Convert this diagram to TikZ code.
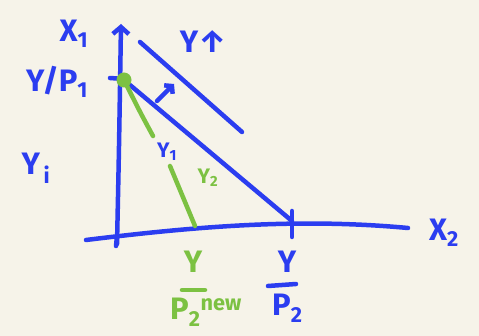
\documentclass[tikz,border=0pt]{standalone}
\usepackage{fontspec}
\setmainfont{Fira Sans}
\usetikzlibrary{arrows.meta}
\definecolor{bg}{HTML}{F6F3E9}
\definecolor{pen}{HTML}{2B3DF0}
\definecolor{lime}{HTML}{7CC142}
\newcommand{\sbs}[1]{\textsubscript{#1}}
\tikzset{
  stroke/.style={draw=pen, line width=4.5pt, line cap=round, line join=round},
  gstroke/.style={draw=lime, line width=4.5pt, line cap=round},
  lbl/.style={text=pen, font=\fontsize{31}{33}\selectfont\bfseries, inner sep=0pt},
  glbl/.style={text=lime, font=\fontsize{31}{33}\selectfont\bfseries, inner sep=0pt},
  slbl/.style={text=pen, font=\fontsize{21}{23}\selectfont\bfseries, inner sep=0pt},
  sglbl/.style={text=lime, font=\fontsize{21}{23}\selectfont\bfseries, inner sep=0pt}
}
\begin{document}
\begin{tikzpicture}[x=1pt,y=-1pt]
\useasboundingbox[fill=bg] (0,0) rectangle (479,336);
% coordinates
\coordinate (ybot) at (117,244);
\coordinate (ytop) at (121,24);
\coordinate (xl) at (86,240);
\coordinate (xr) at (408,228);
\coordinate (A) at (124,80);
\coordinate (B) at (292,221);
\coordinate (G) at (195,226);
\coordinate (U1) at (140,42);
\coordinate (U2) at (242,132);
\coordinate (a1) at (157,101);
\coordinate (a2) at (174,84);
% axes
\draw[stroke, -{Straight Barb[length=7pt,width=16pt]}] (ybot) .. controls (119,150) .. (ytop);
\draw[stroke] (xl) .. controls (200,226) and (300,218) .. (xr);
\draw[stroke] (292,211) -- (292,237);
\draw[stroke] (110,78) -- (124,79);
\draw[stroke] (117,236) -- (116,246);
% budget lines
\draw[stroke] (A) -- (B);
\draw[stroke] (U1) -- (U2);
\draw[stroke, -{Straight Barb[length=5pt,width=12pt]}] (a1) -- (a2);
% green line
\draw[gstroke] (A) .. controls (140,112) .. (153,136);
\draw[gstroke] (170,166) -- (G);
\fill[lime] (A) circle (7.5);
% labels
\node[lbl] (x1) at (74,34) {X\sbs{1}};
\node[lbl] (yp1) at (57,82) {Y/P\sbs{1}};
\node[lbl] (yup) at (203,42) {Y↑};
\node[lbl] (yi) at (36,168) {Y\sbs{\,i}};
\node[slbl] (y1) at (167,152) {Y\sbs{1}};
\node[sglbl] (y2) at (208,178) {Y\sbs{2}};
\node[lbl] (x2) at (444,233) {X\sbs{2}};
% blue fraction Y/P2
\node[lbl] (yp2n) at (287,262) {Y};
\coordinate (r1a) at (268,286);
\coordinate (r1b) at (296,284);
\draw[stroke] (r1a) -- (r1b);
\node[lbl, anchor=north west] (yp2d) at (272,294) {P\sbs{2}};
% green fraction Y/P2new
\node[glbl] (ypnn) at (193,262) {Y};
\coordinate (r2a) at (182,290);
\coordinate (r2b) at (205,290);
\draw[gstroke] (r2a) -- (r2b);
\node[glbl, anchor=north west] (ypnd) at (170,298) {P\sbs{2}\textsuperscript{new}};
\end{tikzpicture}
\end{document}
